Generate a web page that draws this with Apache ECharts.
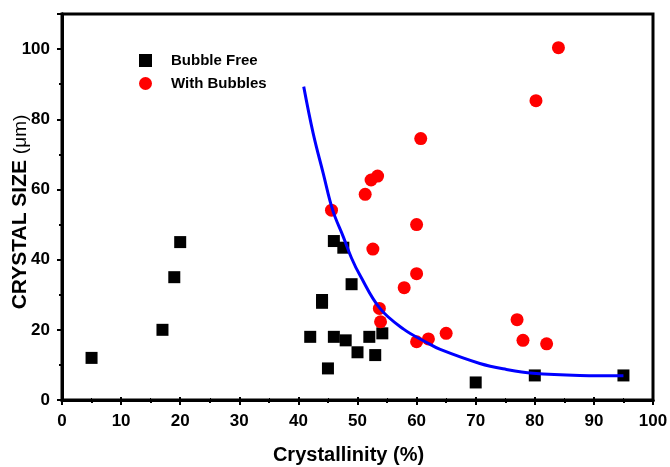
<!DOCTYPE html>
<html>
<head>
<meta charset="utf-8">
<script src="https://cdn.jsdelivr.net/npm/echarts@6/dist/echarts.min.js"></script>
<style>html,body{margin:0;padding:0;background:#fff}#c{width:670px;height:467px}</style>
</head>
<body>
<div id="c"></div>
<script>
var bubbleFree = [
  [5, 12], [17, 20], [19, 35], [20, 45],
  [42, 18], [44, 27.7], [44, 28.5], [45, 9], [46, 45.3], [46, 18],
  [47.6, 43.4], [48, 17], [49, 33], [50, 13.6], [52, 18], [53, 12.8],
  [54.2, 19], [70, 5], [80, 7], [95, 7]
];
var withBubbles = [
  [45.6, 54.1], [51.3, 58.6], [52.3, 62.7], [53.4, 63.8], [52.6, 43],
  [53.7, 26.1], [53.9, 22.3], [57.9, 32], [60, 50], [60, 36],
  [60, 16.6], [60.7, 74.5], [62, 17.4], [65, 19], [77, 22.9],
  [78, 17], [80.2, 85.3], [82, 16], [84, 100.4]
];
var fitCurve = [
  [40.9, 89.3], [42.5, 76], [44.2, 64.6], [45.8, 54.1], [47.6, 46.5],
  [49, 40.4], [50.4, 35.6], [53.8, 26.1], [57.8, 20.2], [61.7, 16.4],
  [64, 14.4], [70.7, 10.4], [75.2, 8.7], [79.7, 7.6], [87.6, 7.0], [95, 6.9]
];
var xTicks = [0, 10, 20, 30, 40, 50, 60, 70, 80, 90, 100];
var yTicks = [0, 20, 40, 60, 80, 100];

var F = 'Liberation Sans, Arial, sans-serif';
var chart = echarts.init(document.getElementById('c'));
chart.setOption({
  animation: false,
  backgroundColor: '#fff',
  grid: { left: 62, right: 17, top: 14, bottom: 67, containLabel: false, outerBoundsMode: 'none',
    show: true, borderColor: '#000', borderWidth: 3, backgroundColor: 'transparent' },
  legend: {
    left: 134, top: 48, orient: 'vertical', itemGap: 8, itemWidth: 13, itemHeight: 13,
    textStyle: { fontFamily: F, fontWeight: 'bold', fontSize: 15, color: '#000', padding: [0, 0, 0, 14] },
    data: [
      { name: 'Bubble Free', icon: 'rect' },
      { name: 'With Bubbles', icon: 'circle' }
    ]
  },
  xAxis: [{
    type: 'value', min: 0, max: 100, interval: 10,
    name: 'Crystallinity (%)', nameLocation: 'middle', nameGap: 45, nameMoveOverlap: false,
    nameTextStyle: { fontFamily: F, fontWeight: 'bold', fontSize: 20, color: '#000', padding: [0, 18, 0, 0] },
    axisLine: { lineStyle: { color: '#000', width: 3 } },
    axisTick: { length: 5, lineStyle: { width: 2, color: '#000' } },
    minorTick: { show: true, splitNumber: 2, length: 3, lineStyle: { width: 2, color: '#000' } },
    axisLabel: { fontFamily: F, fontWeight: 'bold', fontSize: 17, color: '#000', margin: 13,
      formatter: function (v) { return xTicks.indexOf(v) >= 0 ? String(v) : ''; } },
    splitLine: { show: false }
  }, {
    type: 'value', min: 0, max: 100, interval: 10, position: 'top',
    axisLine: { lineStyle: { color: '#000', width: 3 } },
    axisTick: { length: 3, lineStyle: { width: 2, color: '#000' } },
    minorTick: { show: true, splitNumber: 2, length: 2, lineStyle: { width: 1, color: '#000' } },
    axisLabel: { show: false }, splitLine: { show: false }
  }],
  yAxis: [{
    type: 'value', min: 0, max: 110, interval: 20,
    name: '{b|CRYSTAL SIZE }{n|(μm)}', nameLocation: 'middle', nameGap: 31, nameMoveOverlap: false,
    nameTextStyle: { padding: [0, 10, 0, 0], rich: {
      b: { fontFamily: F, fontWeight: 'bold', fontSize: 21, color: '#000' },
      n: { fontFamily: F, fontSize: 19, color: '#000' }
    } },
    axisLine: { lineStyle: { color: '#000', width: 3 } },
    axisTick: { length: 5, lineStyle: { width: 2, color: '#000' } },
    minorTick: { show: true, splitNumber: 2, length: 3, lineStyle: { width: 2, color: '#000' } },
    axisLabel: { fontFamily: F, fontWeight: 'bold', fontSize: 17, color: '#000', margin: 12, showMaxLabel: false,
      formatter: function (v) { return yTicks.indexOf(v) >= 0 ? String(v) : ''; } },
    splitLine: { show: false }
  }, {
    type: 'value', min: 0, max: 110, interval: 20, position: 'right',
    axisLine: { lineStyle: { color: '#000', width: 3 } },
    axisTick: { inside: true, length: 3, lineStyle: { width: 2, color: '#000' } },
    minorTick: { show: false },
    axisLabel: { show: false }, splitLine: { show: false }
  }],
  series: [{
    name: 'Bubble Free', type: 'scatter', symbol: 'rect', symbolSize: 12,
    itemStyle: { color: '#000', opacity: 1 }, data: bubbleFree, z: 2
  }, {
    name: 'With Bubbles', type: 'scatter', symbol: 'circle', symbolSize: 13,
    itemStyle: { color: '#ff0000', opacity: 1 }, data: withBubbles, z: 3
  }, {
    name: 'fit', type: 'line', smooth: 0.4, showSymbol: false, symbol: 'none',
    lineStyle: { color: '#0000ff', width: 3 }, data: fitCurve, z: 4
  }]
});
</script>
</body>
</html>
